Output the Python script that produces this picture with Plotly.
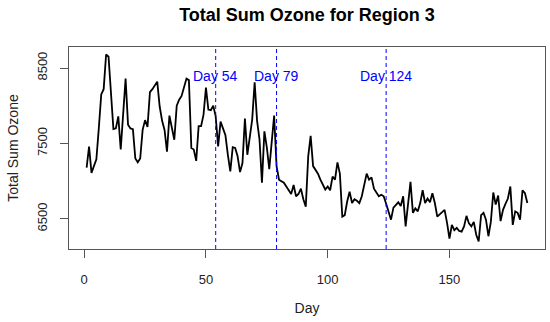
import plotly.graph_objects as go

days = list(range(1, 183))
ozone = [
    7180, 7460, 7110, 7200, 7290, 7700, 8150, 8220, 8680, 8650,
    8200, 7690, 7700, 7860, 7420, 7900, 8360, 7750, 7700, 7690,
    7300, 7250, 7300, 7680, 7810, 7720, 8180, 8220, 8270, 8320,
    7990, 7800, 7680, 7390, 7870, 7730, 7550, 8000, 8080, 8130,
    8250, 8360, 8340, 7440, 7420, 7270, 7730, 7730, 7880, 8240,
    7950, 7940, 8000, 7860, 7460, 7790, 7700, 7610, 7350, 7130,
    7450, 7440, 7330, 7120, 7240, 7830, 7350, 7600, 7820, 8310,
    7800, 7550, 6980, 7660, 7450, 7160, 7500, 7870, 7200, 7020,
    7000, 6980, 6930, 6880, 6830, 6950, 6800, 6830, 6900, 6760,
    6660, 7330, 7600, 7200, 7150, 7100, 7020, 6950, 6890, 6930,
    6880, 7060, 7020, 7250, 7100, 6530, 6550, 6730, 6860, 6710,
    6760, 6740, 6710, 6800, 6930, 7100, 7020, 7050, 6900, 6840,
    6800, 6820, 6800, 6700, 6600, 6490, 6650, 6690, 6720, 6670,
    6800, 6400, 6660, 6990, 6580, 6640, 6600, 6710, 6880, 6710,
    6770, 6720, 6840, 6710, 6530, 6560, 6580, 6620, 6450, 6240,
    6420, 6350, 6380, 6340, 6330, 6400, 6540, 6440, 6400, 6460,
    6290, 6200, 6550, 6580, 6490, 6270, 6460, 6850, 6690, 6810,
    6470, 6620, 6700, 6770, 6930, 6420, 6600, 6580, 6490, 6880,
    6840, 6710,
]

marker_days = [54, 79, 124]
marker_labels = ["Day 54", "Day 79", "Day 124"]
label_level = 8400

x_ticks = [0, 50, 100, 150]
y_ticks = [6500, 7500, 8500]

FONT = "Arial, Liberation Sans, sans-serif"

xmin, xmax = min(days), max(days)
ymin, ymax = min(ozone), max(ozone)
xpad = (xmax - xmin) * 0.04
ypad = (ymax - ymin) * 0.04

fig = go.Figure()
fig.add_trace(go.Scatter(
    x=days, y=ozone, mode="lines",
    line=dict(color="black", width=1.8),
    showlegend=False, hoverinfo="skip",
))

for d, lab in zip(marker_days, marker_labels):
    fig.add_shape(type="line", xref="x", yref="paper", x0=d, x1=d, y0=0, y1=1,
                  line=dict(color="blue", width=1, dash="4px,3px"))
    fig.add_annotation(x=d, y=label_level, xref="x", yref="y", text=lab,
                       showarrow=False, font=dict(family=FONT, size=14, color="blue"),
                       xanchor="center", yanchor="middle")

fig.update_layout(
    width=550, height=322,
    margin=dict(l=69, r=5, t=47, b=73, autoexpand=False),
    paper_bgcolor="white", plot_bgcolor="white",
    font=dict(family=FONT, color="#222222"),
    title=dict(text="<b>Total Sum Ozone for Region 3</b>", x=0.5, xref="paper",
               y=1 - 15 / 322, yref="container", yanchor="middle", xanchor="center",
               font=dict(family=FONT, size=18, color="black"), automargin=False),
)

fig.update_xaxes(
    range=[xmin - xpad, xmax + xpad], automargin=False,
    tickmode="array", tickvals=x_ticks, ticktext=[str(t) for t in x_ticks],
    ticks="outside", ticklen=8, tickcolor="#555555", tickwidth=1,
    showline=True, linecolor="#555555", linewidth=1, mirror=True,
    showgrid=False, zeroline=False,
    tickfont=dict(family=FONT, size=13, color="#222222"),
    ticklabelstandoff=10,
    title=dict(text="Day", font=dict(family=FONT, size=14, color="#222222"), standoff=17),
)
fig.update_yaxes(
    range=[ymin - ypad, ymax + ypad], automargin=False,
    tickmode="array", tickvals=y_ticks, ticktext=[str(t) for t in y_ticks],
    ticks="outside", ticklen=8, tickcolor="#555555", tickwidth=1,
    showline=True, linecolor="#555555", linewidth=1, mirror=True,
    showgrid=False, zeroline=False, tickangle=-90,
    tickfont=dict(family=FONT, size=13, color="#222222"),
    ticklabelstandoff=8,
    title=dict(text="Total Sum Ozone", font=dict(family=FONT, size=14, color="#222222"), standoff=12),
)

fig.write_html("out.html", config={"displayModeBar": False},
               post_script="document.body.style.margin='0';document.body.style.overflow='hidden';")
